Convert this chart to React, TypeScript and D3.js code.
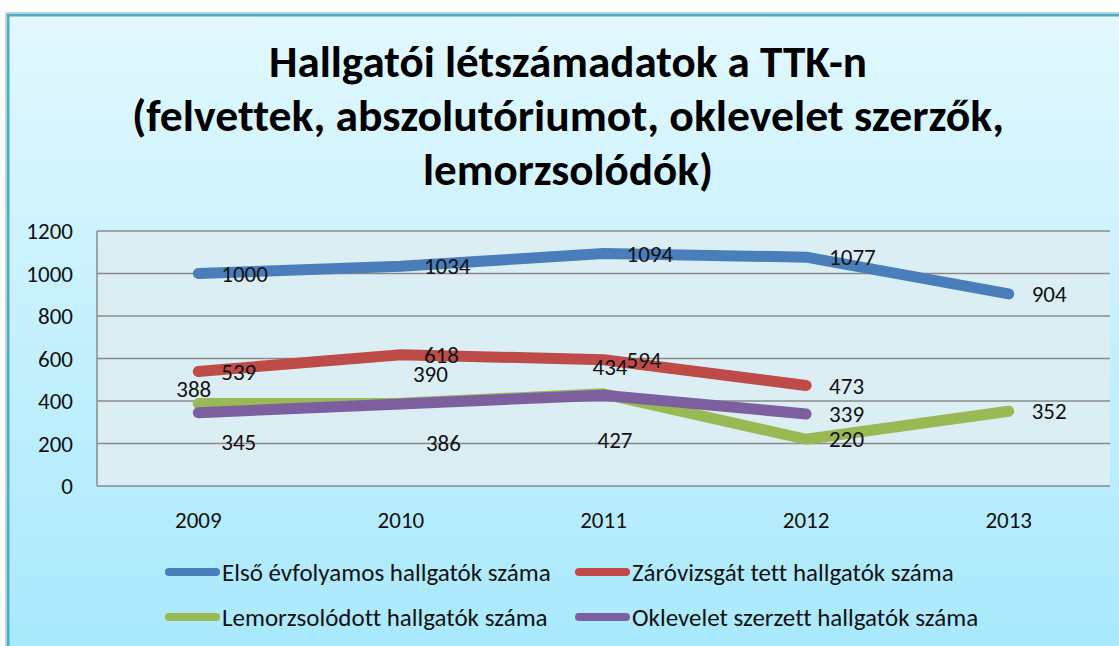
import { useEffect, useRef } from 'react';
import * as d3 from 'd3';

// adatok
const years = ['2009', '2010', '2011', '2012', '2013'];
const firstYearStudents = [1000, 1034, 1094, 1077, 904];
const finalExamStudents = [539, 618, 594, 473, null];
const droppedOutStudents = [388, 390, 434, 220, 352];
const diplomaStudents = [345, 386, 427, 339, null];
const seriesNames = [
  'Első évfolyamos hallgatók száma',
  'Záróvizsgát tett hallgatók száma',
  'Lemorzsolódott hallgatók száma',
  'Oklevelet szerzett hallgatók száma',
];
const yTicks = [0, 200, 400, 600, 800, 1000, 1200];
const titleLines = [
  'Hallgatói létszámadatok a TTK-n',
  '(felvettek, abszolutóriumot, oklevelet szerzők,',
  'lemorzsolódók)',
];

const colors = ['#4a7ebb', '#be4b48', '#98b954', '#7d5fa0'];
// címkék eltolása a ponthoz képest [dx, dy]
const labelOffsets: [number, number][][] = [
  [[23, 0], [23, 0], [23, 0], [23, 0], [23, 0]],
  [[23, 0], [23, 0], [23, 0], [23, 0], [23, 0]],
  [[-22, -15], [12, -29], [-11, -27], [23, 0], [23, 0]],
  [[23, 29], [25, 39], [-6, 45], [23, 0], [23, 0]],
];
const titleWidths = [598, 872, 290];

const FONT = "Carlito, 'Liberation Sans Narrow', 'Liberation Sans', sans-serif";

export default function App() {
  const svgRef = useRef<SVGSVGElement>(null);

  useEffect(() => {
    const width = 1119;
    const height = 646;
    const svg = d3.select(svgRef.current).attr('width', width).attr('height', height).html('')
      .style('font-variant-ligatures', 'none');

    const series = [firstYearStudents, finalExamStudents, droppedOutStudents, diplomaStudents];

    // háttér
    const defs = svg.append('defs');
    const grad = defs.append('linearGradient').attr('id', 'bg-grad')
      .attr('x1', '0').attr('x2', '0').attr('y1', '0').attr('y2', '1');
    grad.append('stop').attr('offset', '0%').attr('stop-color', '#e2f8fe');
    grad.append('stop').attr('offset', '100%').attr('stop-color', '#a8e9fc');

    svg.append('rect').attr('x', 0).attr('y', 0).attr('width', width).attr('height', height).attr('fill', '#fff');
    svg.append('rect').attr('x', 5.5).attr('y', 12.5).attr('width', 1140).attr('height', 660)
      .attr('fill', 'none').attr('stroke', '#d0d0d0').attr('stroke-width', 1);
    svg.append('rect').attr('x', 8).attr('y', 15).attr('width', 1130).attr('height', 640)
      .attr('fill', 'url(#bg-grad)').attr('stroke', '#4bacc6').attr('stroke-width', 3);

    // cím
    svg.append('g').selectAll('text')
      .data(titleLines)
      .enter()
      .append('text')
      .attr('x', 568)
      .attr('y', (d, i) => 77 + i * 54)
      .attr('text-anchor', 'middle')
      .attr('font-family', FONT)
      .attr('font-weight', 'bold')
      .attr('font-size', '45px')
      .attr('textLength', (d, i) => titleWidths[i])
      .attr('lengthAdjust', 'spacingAndGlyphs')
      .attr('fill', '#000')
      .text(d => d);

    const plot = { left: 97, right: 1110, top: 231, bottom: 486 };
    const x = d3.scalePoint<string>().domain(years).range([plot.left, plot.right]).padding(0.5);
    const y = d3.scaleLinear().domain([0, 1200]).range([plot.bottom, plot.top]);

    svg.append('rect')
      .attr('x', plot.left).attr('y', plot.top)
      .attr('width', plot.right - plot.left).attr('height', plot.bottom - plot.top)
      .attr('fill', '#dbeef4');

    // rácsvonalak
    svg.append('g').selectAll('line')
      .data(yTicks)
      .enter()
      .append('line')
      .attr('x1', plot.left).attr('x2', plot.right)
      .attr('y1', d => y(d)).attr('y2', d => y(d))
      .attr('stroke', '#8a8a8a').attr('stroke-width', 1.5);
    svg.append('line')
      .attr('x1', plot.left).attr('x2', plot.left)
      .attr('y1', plot.top).attr('y2', plot.bottom)
      .attr('stroke', '#8a8a8a').attr('stroke-width', 1.5);

    // tengelyfeliratok
    svg.append('g').selectAll('text')
      .data(yTicks)
      .enter()
      .append('text')
      .attr('x', 73)
      .attr('y', d => y(d))
      .attr('dy', '0.35em')
      .attr('text-anchor', 'end')
      .attr('font-family', FONT)
      .attr('font-size', '23px')
      .attr('fill', '#111')
      .text(d => d);

    svg.append('g').selectAll('text')
      .data(years)
      .enter()
      .append('text')
      .attr('x', d => x(d)!)
      .attr('y', 520)
      .attr('dy', '0.35em')
      .attr('text-anchor', 'middle')
      .attr('font-family', FONT)
      .attr('font-size', '23px')
      .attr('fill', '#111')
      .text(d => d);

    // vonalak
    const line = d3.line<number | null>()
      .defined(d => d !== null)
      .x((d, i) => x(years[i])!)
      .y(d => y(d as number));

    series.forEach((s, si) => {
      svg.append('path')
        .datum(s)
        .attr('d', line)
        .attr('fill', 'none')
        .attr('stroke', colors[si])
        .attr('stroke-width', 11)
        .attr('stroke-linecap', 'round')
        .attr('stroke-linejoin', 'round');
    });

    // adatcímkék
    series.forEach((s, si) => {
      svg.append('g').selectAll('text')
        .data(s.map((v, i) => ({ v, i })).filter(d => d.v !== null))
        .enter()
        .append('text')
        .attr('x', d => x(years[d.i])! + labelOffsets[si][d.i][0])
        .attr('y', d => y(d.v as number) + labelOffsets[si][d.i][1])
        .attr('dy', '0.35em')
        .attr('font-family', FONT)
        .attr('font-size', '23px')
        .attr('fill', '#111')
        .text(d => String(d.v));
    });

    // jelmagyarázat
    const legendCols = [165, 575];
    const legendRows = [572, 617];
    seriesNames.forEach((name, i) => {
      const lx = legendCols[i % 2];
      const ly = legendRows[Math.floor(i / 2)];
      const g = svg.append('g').attr('transform', `translate(${lx}, ${ly})`);
      g.append('line')
        .attr('x1', 4).attr('x2', 51).attr('y1', 0).attr('y2', 0)
        .attr('stroke', colors[i]).attr('stroke-width', 8).attr('stroke-linecap', 'round');
      g.append('text')
        .attr('x', 57).attr('y', 0).attr('dy', '0.35em')
        .attr('font-family', FONT)
        .attr('font-size', '25px')
        .attr('fill', '#111')
        .text(name);
    });
  }, []);

  return (
    <div style={{ position: 'absolute', left: 0, top: 0 }}>
      <svg ref={svgRef}></svg>
    </div>
  );
}
